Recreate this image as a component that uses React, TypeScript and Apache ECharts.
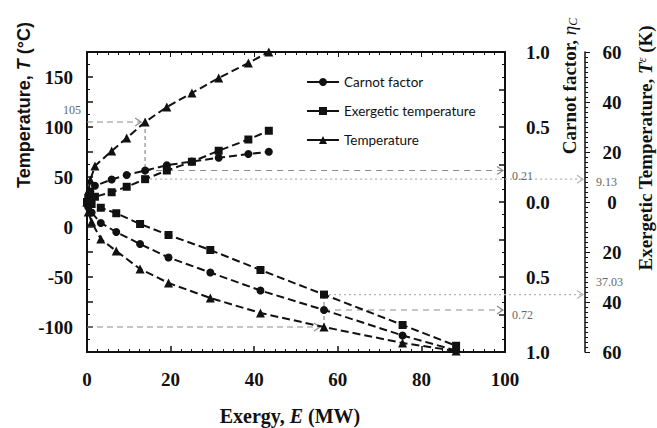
import React, { useEffect, useRef } from 'react';
import * as echarts from 'echarts';

// ---- axes ----
const xTickValues = [0, 20, 40, 60, 80, 100];

// ---- heating branch (above ambient) ----
const heatExergy = [0, 0.3, 0.8, 1.9, 5.9, 9.5, 13.9, 19.1, 25.1, 31.5, 38.6, 43.5];
const heatTemperature = [25, 36, 47, 61, 76, 89, 105, 120, 134, 149, 164, 175];
const heatCarnot = [0, 0.035, 0.07, 0.108, 0.15, 0.18, 0.21, 0.245, 0.27, 0.295, 0.32, 0.335];
const heatExergetic = [0, 0.2, 0.9, 2.1, 3.9, 6.1, 9.13, 12.6, 16.1, 20.5, 25.0, 28.5];

// ---- cooling branch (below ambient) ----
const coolExergy = [0, 0.3, 1.1, 3.3, 7.0, 12.7, 19.5, 29.5, 41.5, 56.7, 75.5, 88.3];
const coolTemperature = [25, 15, 5, -12, -24, -42, -56, -71, -86, -100, -116, -124];
const coolCarnot = [0, 0.035, 0.07, 0.14, 0.2, 0.28, 0.37, 0.47, 0.59, 0.72, 0.89, 0.99];
const coolExergetic = [0, 0.2, 0.8, 2.3, 4.5, 8.8, 13.2, 19.2, 27.2, 37.03, 49.2, 57.5];

// ---- annotations (upper, lower) ----
const annoExergy = [13.9, 56.7];
const annoTemperature = [105, -100];
const annoTempLabel = ['105', ''];
const annoCarnot = [0.21, 0.72];
const annoCarnotLabel = ['0.21', '0.72'];
const annoExergetic = [9.13, 37.03];
const annoExergeticLabel = ['9.13', '37.03'];

const ink = '#111';
const serif = 'Liberation Serif';
const sans = 'Liberation Sans';

export default function App() {
  const ref = useRef<HTMLDivElement>(null);

  useEffect(() => {
    const el = ref.current!;
    const chart = echarts.init(el, undefined, { renderer: 'svg' });

    const pair = (xs: number[], ys: number[], sign = 1) => xs.map((x, i) => [x, sign * ys[i]]);
    const mkSeries = (name: string, yAxisIndex: number, symbol: string, size: number, data: number[][]) => ({
      type: 'line',
      name,
      yAxisIndex,
      symbol,
      symbolSize: size,
      data,
      clip: false,
      lineStyle: { color: ink, width: 2, type: [8, 4] },
      itemStyle: { color: ink },
      z: 3,
    });

    const numRich = { n: { fontFamily: serif, fontWeight: 'bold', fontSize: 19, color: ink, fill: ink } };
    const wrap = (s: string) => (s === '' ? '' : '{n|' + s + '}');

    const option: any = {
      animation: false,
      backgroundColor: '#fff',
      textStyle: { fontFamily: serif },
      grid: { left: 87, right: 152, top: 52, bottom: 76, containLabel: false },
      legend: {
        orient: 'vertical',
        left: 301,
        top: 70,
        itemWidth: 32,
        itemHeight: 10,
        itemGap: 15,
        data: ['Carnot factor', 'Exergetic temperature', 'Temperature'],
        textStyle: { fontFamily: 'Lato', fontSize: 13.5, color: ink },
        lineStyle: { type: 'solid', width: 2 },
      },
      xAxis: [
        {
          type: 'value',
          position: 'bottom',
          min: xTickValues[0],
          max: xTickValues[xTickValues.length - 1],
          interval: 20,
          axisLine: { onZero: false, lineStyle: { color: ink, width: 2 } },
          axisTick: { inside: true, length: 6, lineStyle: { color: ink, width: 1.5 } },
          minorTick: { show: true, splitNumber: 8, length: 3, lineStyle: { color: ink } },
          axisLabel: { margin: 18, rich: numRich, formatter: (v: number) => wrap(String(v)) },
          splitLine: { show: false },
        },
        {
          type: 'value',
          position: 'top',
          min: 0,
          max: 100,
          interval: 20,
          axisLine: { onZero: false, lineStyle: { color: ink, width: 2 } },
          axisTick: { inside: true, length: 5, lineStyle: { color: ink } },
          minorTick: { show: true, splitNumber: 8, length: 3, lineStyle: { color: ink } },
          axisLabel: { show: false },
          splitLine: { show: false },
        },
      ],
      yAxis: [
        {
          type: 'value',
          position: 'left',
          min: -125,
          max: 175,
          interval: 25,
          axisLine: { show: true, onZero: false, lineStyle: { color: ink, width: 2 } },
          axisTick: { show: true, inside: true, length: 6, lineStyle: { color: ink, width: 1.5 } },
          minorTick: { show: true, splitNumber: 2, length: 3, lineStyle: { color: ink } },
          axisLabel: { margin: 14, rich: numRich, formatter: (v: number) => (v % 50 === 0 ? wrap(String(v)) : '') },
          splitLine: { show: false },
        },
        {
          type: 'value',
          position: 'right',
          min: -1,
          max: 1,
          interval: 0.25,
          axisLine: { show: true, onZero: false, lineStyle: { color: ink, width: 2 } },
          axisTick: { show: true, inside: true, length: 6, lineStyle: { color: ink, width: 1.5 } },
          minorTick: { show: true, splitNumber: 3, length: 3, lineStyle: { color: ink } },
          axisLabel: {
            margin: 21,
            rich: numRich,
            formatter: (v: number) =>
              Math.abs(v * 2 - Math.round(v * 2)) < 1e-9 ? wrap(Math.abs(v).toFixed(1)) : '',
          },
          splitLine: { show: false },
        },
        {
          type: 'value',
          position: 'right',
          offset: 80,
          min: -60,
          max: 60,
          interval: 20,
          axisLine: { show: true, onZero: false, lineStyle: { color: ink, width: 1.5 } },
          axisTick: { show: true, inside: false, length: 5, lineStyle: { color: ink } },
          minorTick: { show: true, splitNumber: 10, length: 3, lineStyle: { color: ink } },
          axisLabel: { margin: 27, align: 'center', rich: numRich, formatter: (v: number) => wrap(String(Math.abs(v))) },
          splitLine: { show: false },
        },
      ],
      series: [
        mkSeries('Carnot factor', 1, 'circle', 8, pair(heatExergy, heatCarnot)),
        mkSeries('Carnot factor', 1, 'circle', 8, pair(coolExergy, coolCarnot, -1)),
        mkSeries('Exergetic temperature', 2, 'rect', 8, pair(heatExergy, heatExergetic)),
        mkSeries('Exergetic temperature', 2, 'rect', 8, pair(coolExergy, coolExergetic, -1)),
        mkSeries('Temperature', 0, 'triangle', 9, pair(heatExergy, heatTemperature)),
        mkSeries('Temperature', 0, 'triangle', 9, pair(coolExergy, coolTemperature)),
      ],
    };
    chart.setOption(option);

    const P = (yi: number, x: number, y: number) =>
      chart.convertToPixel({ xAxisIndex: 0, yAxisIndex: yi } as any, [x, y]) as number[];

    const gray = '#8c8c8c';
    const light = '#b4b4b4';
    const g: any[] = [];
    const seg = (a: number[], b: number[], color: string, dash: number[]) =>
      g.push({
        type: 'line',
        shape: { x1: a[0], y1: a[1], x2: b[0], y2: b[1] },
        style: { stroke: color, lineWidth: 1.2, lineDash: dash },
        z: 2,
      });
    const arrow = (p: number[], color: string) =>
      g.push({
        type: 'polyline',
        shape: { points: [[p[0] - 6, p[1] - 4], [p[0], p[1]], [p[0] - 6, p[1] + 4]] },
        style: { stroke: color, lineWidth: 1.2, fill: null },
        z: 2,
      });
    const note = (x: number, y: number, text: string, align: string) =>
      g.push({
        type: 'text',
        x,
        y,
        style: {
          text: '{m|' + text + '}',
          rich: { m: { fontFamily: serif, fontSize: 12, fill: '#666', color: '#666' } },
          align,
          textAlign: align,
          verticalAlign: 'middle',
          textVerticalAlign: 'middle',
        },
        z: 4,
      });

    annoExergy.forEach((e, i) => {
      const sign = i === 0 ? 1 : -1;
      const T = annoTemperature[i];
      const left = P(0, 0, T);
      const tPt = P(0, e, T);
      const cPt = P(1, e, sign * annoCarnot[i]);
      const ePt = P(2, e, sign * annoExergetic[i]);
      const xRight = P(0, 100, T)[0];
      const xEx = xRight + 80;
      seg(left, [tPt[0] - 4, tPt[1]], gray, [6, 4]);
      arrow([tPt[0] - 4, tPt[1]], gray);
      seg(tPt, [tPt[0], ePt[1]], gray, [4, 3]);
      seg(cPt, [xRight - 2, cPt[1]], gray, [6, 5]);
      arrow([xRight - 2, cPt[1]], gray);
      seg(ePt, [xEx - 2, ePt[1]], light, [2, 3]);
      arrow([xEx - 2, ePt[1]], light);
      if (annoTempLabel[i]) note(left[0] - 6, tPt[1] - 12, annoTempLabel[i], 'right');
      note(xRight + 7, cPt[1] + 5, annoCarnotLabel[i], 'left');
      note(xEx + 11, ePt[1] + (i === 0 ? 3 : -13), annoExergeticLabel[i], 'left');
    });

    const title = (x: number, y: number, text: string, rich: any) =>
      g.push({
        type: 'text',
        x,
        y,
        rotation: Math.PI / 2,
        style: { text, rich, align: 'center', textAlign: 'center', verticalAlign: 'middle', textVerticalAlign: 'middle' },
        z: 5,
      });

    title(24, 105, '{a|Temperature, }{i|T}{a| (°C)}', {
      a: { fontFamily: sans, fontWeight: 'bold', fontSize: 18, fill: ink, color: ink },
      i: { fontFamily: sans, fontWeight: 'bold', fontStyle: 'italic', fontSize: 18, fill: ink, color: ink },
    });
    title(569, 86, '{a|Carnot factor, }{i|η}{s|C}', {
      a: { fontFamily: serif, fontWeight: 'bold', fontSize: 19, fill: ink, color: ink },
      i: { fontFamily: serif, fontStyle: 'italic', fontSize: 19, fill: ink, color: ink },
      s: { fontFamily: serif, fontStyle: 'italic', fontSize: 12, fill: ink, color: ink, verticalAlign: 'bottom' },
    });
    title(645, 148, '{a|Exergetic Temperature, }{i|T}{s|ε}{a| (K)}', {
      a: { fontFamily: serif, fontWeight: 'bold', fontSize: 19, fill: ink, color: ink },
      i: { fontFamily: serif, fontWeight: 'bold', fontStyle: 'italic', fontSize: 19, fill: ink, color: ink },
      s: { fontFamily: serif, fontStyle: 'italic', fontSize: 12, fill: ink, color: ink, verticalAlign: 'top' },
    });
    g.push({
      type: 'text',
      x: 290,
      y: 416,
      style: {
        text: '{a|Exergy, }{i|E}{a| (MW)}',
        rich: {
          a: { fontFamily: serif, fontWeight: 'bold', fontSize: 20, fill: ink, color: ink },
          i: { fontFamily: serif, fontWeight: 'bold', fontStyle: 'italic', fontSize: 20, fill: ink, color: ink },
        },
        align: 'center',
        textAlign: 'center',
        verticalAlign: 'middle',
        textVerticalAlign: 'middle',
      },
      z: 5,
    });

    chart.setOption({ graphic: g });

    return () => chart.dispose();
  }, []);

  return <div ref={ref} style={{ position: 'absolute', left: 0, top: 0, width: 657, height: 428 }} />;
}
